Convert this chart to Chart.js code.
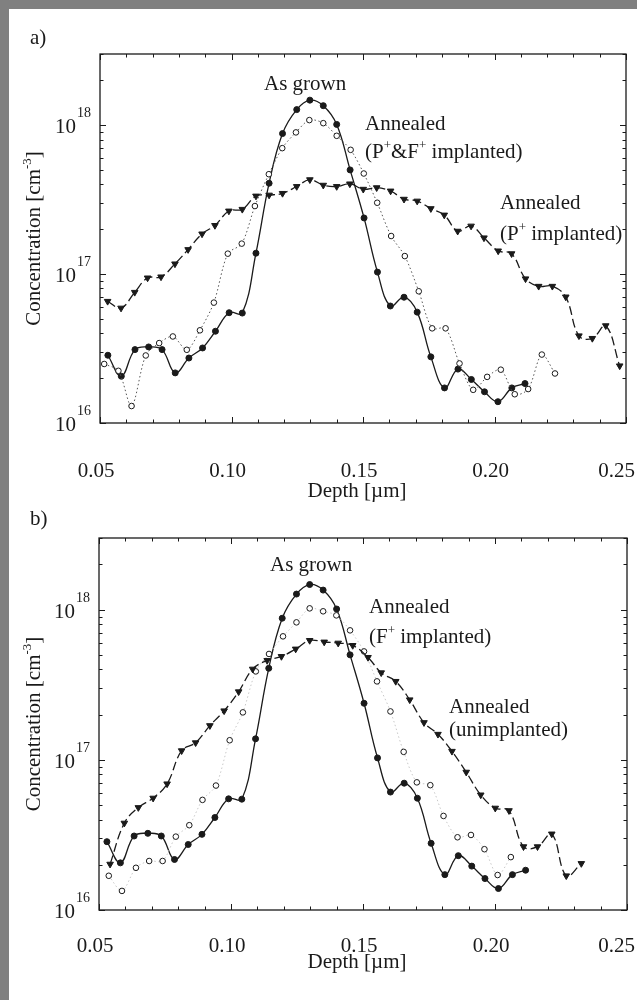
<!DOCTYPE html>
<html>
<head>
<meta charset="utf-8">
<script src="https://cdn.jsdelivr.net/npm/chart.js@4"></script>
<style>
  html, body { margin: 0; padding: 0; background: #fff; }
  body { width: 637px; height: 1000px; position: relative; overflow: hidden; }
  .frame-top { position: absolute; left: 0; top: 0; width: 637px; height: 9px; background: #808080; }
  .frame-left { position: absolute; left: 0; top: 0; width: 9px; height: 1000px; background: #808080; }
  .panel { position: absolute; left: 0; width: 637px; }
  #wrapA { top: 0; height: 530px; }
  #wrapB { top: 490px; height: 510px; }
</style>
</head>
<body>
<div class="panel" id="wrapA"><canvas id="chartA"></canvas></div>
<div class="panel" id="wrapB"><canvas id="chartB"></canvas></div>
<div class="frame-top"></div>
<div class="frame-left"></div>
<script>
'use strict';

// ---- data (depth in um, concentration in cm^-3) ----
const asGrownDepth = [0.0530, 0.0581, 0.0633, 0.0685, 0.0736, 0.0786, 0.0838, 0.0890, 0.0939, 0.0991,
                      0.1041, 0.1093, 0.1143, 0.1194, 0.1248, 0.1298, 0.1349, 0.1400, 0.1451, 0.1504,
                      0.1555, 0.1604, 0.1656, 0.1706, 0.1758, 0.1810, 0.1861, 0.1912, 0.1962, 0.2013,
                      0.2066, 0.2116];
const asGrownConc = [2.85e16, 2.06e16, 3.11e16, 3.24e16, 3.11e16, 2.17e16, 2.73e16, 3.19e16, 4.13e16, 5.50e16,
                     5.47e16, 1.38e17, 4.07e17, 8.77e17, 1.27e18, 1.47e18, 1.35e18, 1.01e18, 5.0e17, 2.38e17,
                     1.03e17, 6.1e16, 6.99e16, 5.55e16, 2.78e16, 1.72e16, 2.3e16, 1.96e16, 1.62e16, 1.39e16,
                     1.72e16, 1.84e16];

// a) annealed, P+ & F+ implanted (open circles)
const pfDepth = [0.0516, 0.0570, 0.0620, 0.0674, 0.0725, 0.0777, 0.0830, 0.0880, 0.0933, 0.0986,
                 0.1039, 0.1089, 0.1142, 0.1193, 0.1245, 0.1296, 0.1349, 0.1400, 0.1453, 0.1503,
                 0.1554, 0.1607, 0.1659, 0.1712, 0.1763, 0.1814, 0.1867, 0.1919, 0.1972, 0.2024,
                 0.2077, 0.2128, 0.2180, 0.2230];
const pfConc = [2.49e16, 2.24e16, 1.30e16, 2.84e16, 3.44e16, 3.81e16, 3.10e16, 4.19e16, 6.43e16, 1.37e17,
                1.60e17, 2.86e17, 4.68e17, 7.00e17, 8.93e17, 1.08e18, 1.03e18, 8.47e17, 6.82e17, 4.73e17,
                3.01e17, 1.80e17, 1.32e17, 7.66e16, 4.32e16, 4.32e16, 2.51e16, 1.67e16, 2.04e16, 2.28e16,
                1.56e16, 1.69e16, 2.88e16, 2.15e16];

// a) annealed, P+ implanted (triangles)
const pDepth = [0.0529, 0.0580, 0.0632, 0.0681, 0.0732, 0.0785, 0.0835, 0.0888, 0.0937, 0.0990,
                0.1041, 0.1093, 0.1143, 0.1194, 0.1248, 0.1298, 0.1349, 0.1400, 0.1450, 0.1501,
                0.1552, 0.1605, 0.1656, 0.1706, 0.1758, 0.1809, 0.1860, 0.1911, 0.1960, 0.2014,
                0.2065, 0.2118, 0.2168, 0.2220, 0.2271, 0.2321, 0.2372, 0.2423, 0.2476];
const pConc = [6.56e16, 5.91e16, 7.54e16, 9.42e16, 9.57e16, 1.17e17, 1.46e17, 1.86e17, 2.12e17, 2.65e17,
               2.72e17, 3.34e17, 3.39e17, 3.48e17, 3.87e17, 4.30e17, 3.95e17, 3.87e17, 4.03e17, 3.71e17,
               3.80e17, 3.61e17, 3.18e17, 3.09e17, 2.75e17, 2.49e17, 1.94e17, 2.10e17, 1.75e17, 1.43e17,
               1.37e17, 9.29e16, 8.28e16, 8.28e16, 7.02e16, 3.85e16, 3.70e16, 4.50e16, 2.42e16];

// b) annealed, F+ implanted (open circles)
const fDepth = [0.0537, 0.0587, 0.0640, 0.0690, 0.0741, 0.0791, 0.0842, 0.0892, 0.0943, 0.0995,
                0.1045, 0.1094, 0.1144, 0.1197, 0.1248, 0.1298, 0.1349, 0.1399, 0.1451, 0.1504,
                0.1553, 0.1604, 0.1654, 0.1704, 0.1755, 0.1805, 0.1858, 0.1909, 0.1960, 0.2010,
                0.2060];
const fConc = [1.69e16, 1.34e16, 1.91e16, 2.12e16, 2.12e16, 3.08e16, 3.67e16, 5.41e16, 6.74e16, 1.35e17,
               2.07e17, 3.88e17, 5.07e17, 6.64e17, 8.23e17, 1.02e18, 9.75e17, 9.16e17, 7.28e17, 5.27e17,
               3.33e17, 2.10e17, 1.13e17, 7.08e16, 6.78e16, 4.23e16, 3.05e16, 3.16e16, 2.54e16, 1.71e16,
               2.25e16];

// b) annealed, unimplanted (triangles)
const uDepth = [0.0542, 0.0596, 0.0649, 0.0705, 0.0758, 0.0813, 0.0866, 0.0920, 0.0974, 0.1029,
                0.1082, 0.1137, 0.1191, 0.1245, 0.1298, 0.1353, 0.1406, 0.1461, 0.1519, 0.1569,
                0.1624, 0.1677, 0.1731, 0.1784, 0.1837, 0.1891, 0.1946, 0.2001, 0.2053, 0.2108,
                0.2161, 0.2215, 0.2270, 0.2327];
const uConc = [2.02e16, 3.79e16, 4.81e16, 5.56e16, 6.92e16, 1.15e17, 1.30e17, 1.69e17, 2.12e17, 2.84e17,
               4.02e17, 4.59e17, 4.88e17, 5.47e17, 6.24e17, 6.09e17, 5.99e17, 5.78e17, 4.81e17, 3.80e17,
               3.33e17, 2.51e17, 1.77e17, 1.48e17, 1.14e17, 8.28e16, 5.84e16, 4.77e16, 4.59e16, 2.64e16,
               2.64e16, 3.21e16, 1.69e16, 2.04e16];

const xTicks = [0.05, 0.10, 0.15, 0.20, 0.25];
const xTickLabels = ['0.05', '0.10', '0.15', '0.20', '0.25'];
const yTickExps = [16, 17, 18];
const xTitle = 'Depth [\u00b5m]';
const yTitle = 'Concentration [cm^{-3}]';

const FONT = '"Liberation Serif", "Times New Roman", serif';
const INK = '#1a1a1a';

function toPoints(xs, ys){
    return xs.map((x, i) => ({x: x, y: ys[i]}));
}

// text with ^X / ^{XY} superscripts
function drawRich(ctx, str, x, y, size, align){
    const segs = [];
    const re = /\^\{([^}]*)\}|\^(.)/g;
    let last = 0, m;
    while((m = re.exec(str))){
        if(m.index > last) segs.push({t: str.slice(last, m.index), sup: false});
        segs.push({t: m[1] !== undefined ? m[1] : m[2], sup: true});
        last = re.lastIndex;
    }
    if(last < str.length) segs.push({t: str.slice(last), sup: false});

    const fN = size + 'px ' + FONT,
          fS = Math.round(size * 0.64) + 'px ' + FONT;
    let w = 0;
    segs.forEach(s => { ctx.font = s.sup ? fS : fN; s.w = ctx.measureText(s.t).width; w += s.w; });
    let cx = align === 'center' ? x - w / 2 : (align === 'right' ? x - w : x);
    ctx.textAlign = 'left';
    ctx.textBaseline = 'alphabetic';
    segs.forEach(s => {
        ctx.font = s.sup ? fS : fN;
        ctx.fillText(s.t, cx, s.sup ? y - size * 0.42 : y);
        cx += s.w;
    });
}

// frame with inward ticks on all four sides + labels
const paperAxes = {
    id: 'paperAxes',
    afterDatasetsDraw(chart, args, o){
        const {ctx, chartArea: a, scales: {x, y}} = chart;
        ctx.save();
        ctx.strokeStyle = INK;
        ctx.lineWidth = 1.3;
        ctx.strokeRect(a.left, a.top, a.right - a.left, a.bottom - a.top);

        ctx.lineWidth = 1;
        ctx.beginPath();
        for(let i = 5; i <= 25; i++){
            const px = Math.round(x.getPixelForValue(i / 100)) + 0.5,
                  len = i % 5 === 0 ? 6 : 3.5;
            ctx.moveTo(px, a.bottom); ctx.lineTo(px, a.bottom - len);
            ctx.moveTo(px, a.top); ctx.lineTo(px, a.top + len);
        }
        const yMax = y.max;
        for(let e = 16; e <= 18; e++){
            for(let k = 1; k <= 9; k++){
                const v = k * Math.pow(10, e);
                if(v > yMax * 1.0001) break;
                const py = Math.round(y.getPixelForValue(v)) + 0.5,
                      len = k === 1 ? 6 : 3.5;
                ctx.moveTo(a.left, py); ctx.lineTo(a.left + len, py);
                ctx.moveTo(a.right, py); ctx.lineTo(a.right - len, py);
            }
        }
        ctx.stroke();

        ctx.fillStyle = INK;
        // x tick labels (slightly left of the tick, last one kept inside the page)
        ctx.font = '21px ' + FONT;
        ctx.textAlign = 'center';
        ctx.textBaseline = 'alphabetic';
        xTicks.forEach((v, i) => {
            const w = ctx.measureText(xTickLabels[i]).width;
            let cx = x.getPixelForValue(v) - 4;
            cx = Math.min(cx, chart.width - 2 - w / 2);
            ctx.fillText(xTickLabels[i], cx, a.bottom + o.xLabelGap);
        });
        // y tick labels 10^n
        yTickExps.forEach(e => {
            const py = y.getPixelForValue(Math.pow(10, e));
            ctx.font = '21px ' + FONT;
            ctx.textAlign = 'right';
            ctx.fillText('10', a.left - 24, py + 8);
            ctx.font = '14px ' + FONT;
            ctx.textAlign = 'left';
            ctx.fillText(String(e), a.left - 23, py - 8);
        });
        // axis titles
        drawRich(ctx, xTitle, (a.left + a.right) / 2 - 6, a.bottom + o.xTitleGap, 21, 'center');
        ctx.save();
        ctx.translate(o.yTitleX, (a.top + a.bottom) / 2);
        ctx.rotate(-Math.PI / 2);
        drawRich(ctx, yTitle, 0, 0, 21, 'center');
        ctx.restore();

        // panel letter and curve labels
        o.labels.forEach(l => drawRich(ctx, l.text, l.x, l.y, l.size || 21, 'left'));
        ctx.restore();
    }
};

const asGrownStyle = {
    borderColor: INK, borderWidth: 1.3, tension: 0.4,
    pointStyle: 'circle', pointRadius: 3, pointBackgroundColor: INK, pointBorderColor: INK, pointBorderWidth: 1
};
const openStyle = {
    borderWidth: 1, tension: 0.3, borderDash: [1.5, 2.5],
    pointStyle: 'circle', pointRadius: 2.8, pointBackgroundColor: '#fff', pointBorderColor: INK, pointBorderWidth: 1
};
const triStyle = {
    borderColor: INK, borderWidth: 1.3, tension: 0.4, borderDash: [9, 4],
    pointStyle: 'triangle', pointRotation: 180, pointRadius: 3.8,
    pointBackgroundColor: INK, pointBorderColor: INK, pointBorderWidth: 1
};

function makePanel(canvasId, datasets, pad, axesOpts){
    return new Chart(document.getElementById(canvasId), {
        type: 'line',
        data: {datasets: datasets},
        options: {
            responsive: true,
            maintainAspectRatio: false,
            animation: false,
            events: [],
            layout: {padding: pad},
            scales: {
                x: {type: 'linear', display: false, min: 0.05, max: 0.25},
                y: {type: 'logarithmic', display: false, min: 1e16, max: 3e18}
            },
            plugins: {
                legend: {display: false},
                tooltip: {enabled: false},
                paperAxes: axesOpts
            }
        },
        plugins: [paperAxes]
    });
}

makePanel('chartA', [
    Object.assign({label: 'Annealed (P+ implanted)', data: toPoints(pDepth, pConc)}, triStyle),
    Object.assign({label: 'Annealed (P+&F+ implanted)', data: toPoints(pfDepth, pfConc), borderColor: '#555'}, openStyle),
    Object.assign({label: 'As grown', data: toPoints(asGrownDepth, asGrownConc)}, asGrownStyle)
], {left: 100, right: 11, top: 54, bottom: 107}, {
    xLabelGap: 54, xTitleGap: 74, yTitleX: 40,
    labels: [
        {text: 'a)', x: 30, y: 44},
        {text: 'As grown', x: 264, y: 90},
        {text: 'Annealed', x: 365, y: 130},
        {text: '(P^+&F^+ implanted)', x: 365, y: 158},
        {text: 'Annealed', x: 500, y: 209},
        {text: '(P^+ implanted)', x: 500, y: 240}
    ]
});

makePanel('chartB', [
    Object.assign({label: 'Annealed (unimplanted)', data: toPoints(uDepth, uConc)}, triStyle),
    Object.assign({label: 'Annealed (F+ implanted)', data: toPoints(fDepth, fConc), borderColor: '#c8c8c8'}, openStyle),
    Object.assign({label: 'As grown', data: toPoints(asGrownDepth, asGrownConc)}, asGrownStyle)
], {left: 99, right: 10, top: 48, bottom: 90}, {
    xLabelGap: 42, xTitleGap: 58, yTitleX: 40,
    labels: [
        {text: 'b)', x: 30, y: 35},
        {text: 'As grown', x: 270, y: 81},
        {text: 'Annealed', x: 369, y: 123},
        {text: '(F^+ implanted)', x: 369, y: 153},
        {text: 'Annealed', x: 449, y: 223},
        {text: '(unimplanted)', x: 449, y: 246}
    ]
});
</script>
</body>
</html>
